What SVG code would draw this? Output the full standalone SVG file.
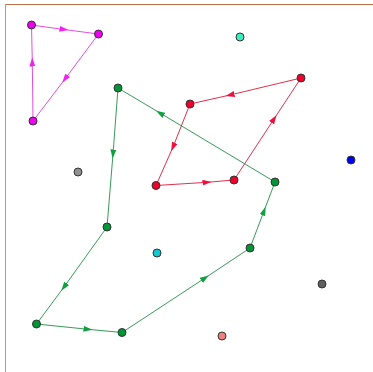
<svg xmlns="http://www.w3.org/2000/svg" width="373" height="372" viewBox="0 0 373 372">
<style>
.n{stroke:#333;stroke-width:1}
.e{fill:none;stroke-width:1}
.mg{stroke:#e050e0}
.gr{stroke:#3a9a5a}
.rd{stroke:#e0304f}
</style>
<defs>
<marker id="am" markerUnits="userSpaceOnUse" markerWidth="9" markerHeight="6" refX="4.5" refY="3" orient="auto" viewBox="0 0 9 6"><path d="M0,0 L9,3 L0,6 z" fill="#f020f0"/></marker>
<marker id="ag" markerUnits="userSpaceOnUse" markerWidth="9" markerHeight="6" refX="4.5" refY="3" orient="auto" viewBox="0 0 9 6"><path d="M0,0 L9,3 L0,6 z" fill="#10a040"/></marker>
<marker id="ar" markerUnits="userSpaceOnUse" markerWidth="9" markerHeight="6" refX="4.5" refY="3" orient="auto" viewBox="0 0 9 6"><path d="M0,0 L9,3 L0,6 z" fill="#f01040"/></marker>
</defs>
<rect width="373" height="372" fill="#fff"/>
<line x1="5.5" y1="4.5" x2="373" y2="4.5" stroke="#b8714a" stroke-width="1"/>
<line x1="5.5" y1="4.5" x2="5.5" y2="372" stroke="#b09a8c" stroke-width="1"/>
<g id="connectors">
<polyline class="e mg" points="31.5,25 64,29.5 98.5,34" marker-mid="url(#am)"/>
<polyline class="e mg" points="98.5,34 65,79 33,121" marker-mid="url(#am)"/>
<polyline class="e mg" points="33,121 32.3,62 31.5,25" marker-mid="url(#am)"/>
<polyline class="e gr" points="118,88 113,154 107,227" marker-mid="url(#ag)"/>
<polyline class="e gr" points="107,227 64,287 36.5,324" marker-mid="url(#ag)"/>
<polyline class="e gr" points="36.5,324 88,329.3 122,332.5" marker-mid="url(#ag)"/>
<polyline class="e gr" points="122,332.5 205,278 250,248" marker-mid="url(#ag)"/>
<polyline class="e gr" points="250,248 264,211 275,182" marker-mid="url(#ag)"/>
<polyline class="e gr" points="275,182 160,113 118,88" marker-mid="url(#ag)"/>
<polyline class="e rd" points="301,78 230,95 190,104" marker-mid="url(#ar)"/>
<polyline class="e rd" points="190,104 173,147 156,185.5" marker-mid="url(#ar)"/>
<polyline class="e rd" points="156,185.5 207,182.3 234,180" marker-mid="url(#ar)"/>
<polyline class="e rd" points="234,180 274,119 301,78" marker-mid="url(#ar)"/>
</g>
<g id="m1"><circle class="n" cx="31.5" cy="25" r="4" fill="#f000f0"/></g>
<g id="m2"><circle class="n" cx="98.5" cy="34" r="4" fill="#f000f0"/></g>
<g id="m3"><circle class="n" cx="33" cy="121" r="4" fill="#f000f0"/></g>
<g id="g1"><circle class="n" cx="118" cy="88" r="4" fill="#009638"/></g>
<g id="g2"><circle class="n" cx="107" cy="227" r="4" fill="#009638"/></g>
<g id="g3"><circle class="n" cx="36.5" cy="324" r="4" fill="#009638"/></g>
<g id="g4"><circle class="n" cx="122" cy="332.5" r="4" fill="#009638"/></g>
<g id="g5"><circle class="n" cx="250" cy="248" r="4" fill="#009638"/></g>
<g id="g6"><circle class="n" cx="275" cy="182" r="4" fill="#009638"/></g>
<g id="r1"><circle class="n" cx="190" cy="104" r="4" fill="#f0002c"/></g>
<g id="r2"><circle class="n" cx="301" cy="78" r="4" fill="#f0002c"/></g>
<g id="r3"><circle class="n" cx="156" cy="185.5" r="4" fill="#f0002c"/></g>
<g id="r4"><circle class="n" cx="234" cy="180" r="4" fill="#f0002c"/></g>
<g id="s1"><circle class="n" cx="240" cy="37" r="4" fill="#38f0c0"/></g>
<g id="s2"><circle class="n" cx="78" cy="172" r="4" fill="#909090"/></g>
<g id="s3"><circle class="n" cx="157" cy="253" r="4" fill="#10c8d0"/></g>
<g id="s4"><circle class="n" cx="322" cy="284" r="4" fill="#606060"/></g>
<g id="s5"><circle class="n" cx="222" cy="336" r="4" fill="#f08080"/></g>
<g id="s6"><circle class="n" cx="351" cy="160" r="4" fill="#0000f0"/></g>
</svg>
